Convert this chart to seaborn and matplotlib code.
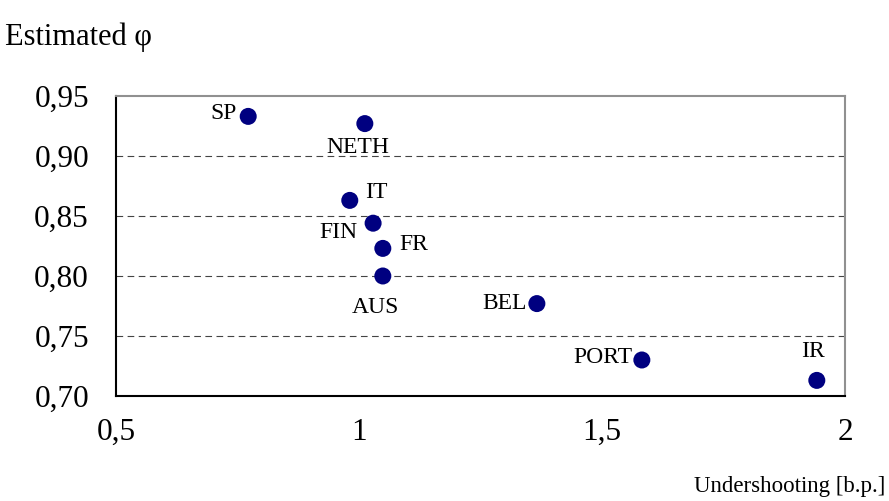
import seaborn as sns
import matplotlib
matplotlib.use('Agg')
import matplotlib.pyplot as plt
import pandas as pd
from matplotlib.ticker import FuncFormatter

countries = ['SP', 'NETH', 'IT', 'FIN', 'FR', 'AUS', 'BEL', 'PORT', 'IR']
undershooting = [0.772, 1.012, 0.981, 1.029, 1.049, 1.049, 1.366, 1.582, 1.942]
phi = [0.933, 0.927, 0.863, 0.844, 0.823, 0.800, 0.777, 0.730, 0.713]
x_ticks = [0.5, 1, 1.5, 2]
y_ticks = [0.70, 0.75, 0.80, 0.85, 0.90, 0.95]

# label placement (offset in points, alignment)
label_pos = {
    'SP':   ((-8, 2), 'right', 'center'),
    'NETH': ((-5, -10), 'center', 'top'),
    'IT':   ((11, 6), 'left', 'center'),
    'FIN':  ((-11, -6.5), 'right', 'center'),
    'FR':   ((12, 3), 'left', 'center'),
    'AUS':  ((-5, -15), 'center', 'top'),
    'BEL':  ((-7, 0), 'right', 'center'),
    'PORT': ((-7, 2), 'right', 'center'),
    'IR':   ((-3, 13), 'center', 'bottom'),
}

df = pd.DataFrame({'country': countries, 'x': undershooting, 'y': phi})

sns.set_style('white')
plt.rcParams['font.family'] = ['Liberation Serif', 'DejaVu Serif']

fig = plt.figure(figsize=(8.89, 5.01), dpi=100)
ax = fig.add_axes([0.1305, 0.2096, 0.82, 0.5988])

sns.scatterplot(data=df, x='x', y='y', color='#000080', s=150,
                edgecolor='none', ax=ax, zorder=3)

for c, xv, yv in zip(countries, undershooting, phi):
    off, ha, va = label_pos[c]
    ax.annotate(c, (xv, yv), xytext=off, textcoords='offset points',
                ha=ha, va=va, fontsize=17, color='black')

ax.set_xlim(0.5, 2)
ax.set_ylim(0.70, 0.95)
ax.set_xticks(x_ticks)
ax.set_yticks(y_ticks)
ax.xaxis.set_major_formatter(FuncFormatter(lambda v, p: ('%g' % v).replace('.', ',')))
ax.yaxis.set_major_formatter(FuncFormatter(lambda v, p: ('%.2f' % v).replace('.', ',')))
ax.tick_params(axis='both', direction='out', length=7.5, width=1, color='black',
               labelsize=22.5, labelcolor='black')
ax.tick_params(axis='x', pad=8)
ax.tick_params(axis='y', pad=12)

for yv in y_ticks[1:-1]:
    ax.axhline(yv, color='#444444', linestyle=(0, (6, 4)), linewidth=0.8, zorder=1)

ax.spines['left'].set_color('black')
ax.spines['bottom'].set_color('black')
ax.spines['top'].set_color('#909090')
ax.spines['right'].set_color('#909090')
for s in ax.spines.values():
    s.set_linewidth(1.5)

ax.set_xlabel('')
ax.set_ylabel('')
fig.text(0.006, 0.925, 'Estimated \u03c6', fontsize=22, ha='left', va='center', color='black')
fig.text(0.996, 0.028, 'Undershooting [b.p.]', fontsize=16.5, ha='right', va='center', color='black')

fig.savefig('out.png', dpi=100)
